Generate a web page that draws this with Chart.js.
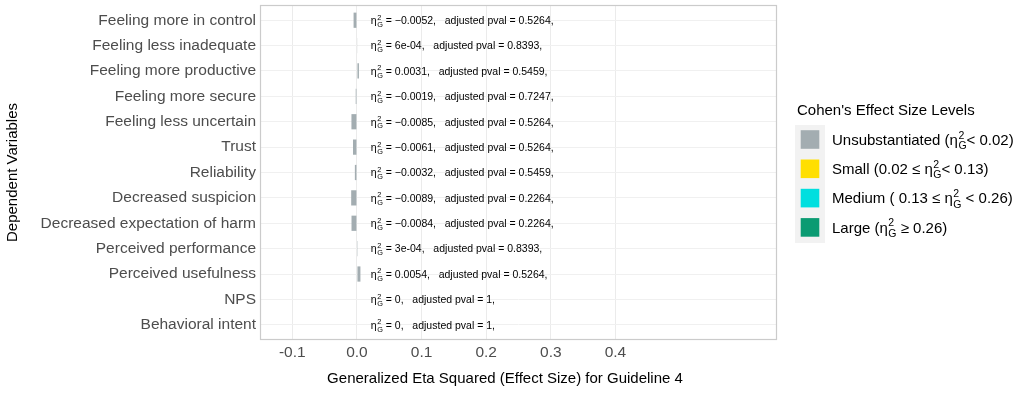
<!DOCTYPE html>
<html>
<head>
<meta charset="utf-8">
<script src="https://cdn.jsdelivr.net/npm/chart.js@4.4.1/dist/chart.umd.min.js"></script>
<style>
  html, body { margin: 0; padding: 0; background: #fff; }
  #wrap { width: 1032px; height: 395px; }
</style>
</head>
<body>
<div id="wrap"><canvas id="chart"></canvas></div>
<script>
const FONT = '"Liberation Sans", Arial, Helvetica, sans-serif';

// data
const categories = ['Feeling more in control', 'Feeling less inadequate', 'Feeling more productive',
  'Feeling more secure', 'Feeling less uncertain', 'Trust', 'Reliability', 'Decreased suspicion',
  'Decreased expectation of harm', 'Perceived performance', 'Perceived usefulness', 'NPS', 'Behavioral intent'];
const etaValues = [-0.0052, 0.0006, 0.0031, -0.0019, -0.0085, -0.0061, -0.0032, -0.0089, -0.0084, 0.0003, 0.0054, 0, 0];
const etaLabels = ['\u22120.0052', '6e-04', '0.0031', '\u22120.0019', '\u22120.0085', '\u22120.0061', '\u22120.0032',
  '\u22120.0089', '\u22120.0084', '3e-04', '0.0054', '0', '0'];
const pvalLabels = ['0.5264', '0.8393', '0.5459', '0.7247', '0.5264', '0.5264', '0.5459', '0.2264', '0.2264',
  '0.8393', '0.5264', '1', '1'];
const xTicks = [-0.1, 0, 0.1, 0.2, 0.3, 0.4];
const xTickLabels = ['-0.1', '0.0', '0.1', '0.2', '0.3', '0.4'];
const levelThresholds = [0.02, 0.13, 0.26];
const levelColors = ['#a3adb1', '#ffdf00', '#00dfdf', '#0b9b72'];
const levelLabels = [
  ['Unsubstantiated (', 'ETA', '< 0.02)'],
  ['Small (0.02 \u2264 ', 'ETA', '< 0.13)'],
  ['Medium ( 0.13 \u2264 ', 'ETA', ' < 0.26)'],
  ['Large (', 'ETA', ' \u2265 0.26)']
];

function levelOf(v) {
  let a = Math.abs(v), i = 0;
  while (i < levelThresholds.length && a >= levelThresholds[i]) i++;
  return i;
}

// draws text pieces, 'ETA' is eta with sup 2 and sub G
function drawRich(ctx, parts, x, base, size) {
  ctx.textBaseline = 'alphabetic';
  ctx.textAlign = 'left';
  parts.forEach(p => {
    if (p === 'ETA') {
      ctx.font = size + 'px ' + FONT;
      ctx.fillText('\u03b7', x, base);
      x += ctx.measureText('\u03b7').width + 0.5;
      let s = size * 0.7;
      ctx.font = s + 'px ' + FONT;
      ctx.fillText('2', x, base - size * 0.42);
      ctx.fillText('G', x, base + size * 0.28);
      x += Math.max(ctx.measureText('2').width, ctx.measureText('G').width);
    } else {
      ctx.font = size + 'px ' + FONT;
      ctx.fillText(p, x, base);
      x += ctx.measureText(p).width;
    }
  });
  return x;
}

const overlay = {
  id: 'overlay',
  afterDraw(chart) {
    const ctx = chart.ctx, a = chart.chartArea;
    const xs = chart.scales.x, ys = chart.scales.y;
    ctx.save();

    // panel border
    ctx.strokeStyle = '#cbcbcb';
    ctx.lineWidth = 1.2;
    ctx.strokeRect(a.left + 0.5, a.top + 0.5, a.right - a.left - 1, a.bottom - a.top - 1);

    // annotations
    ctx.fillStyle = '#000';
    const tx = xs.getPixelForValue(0.0215);
    categories.forEach((c, i) => {
      const cy = ys.getPixelForValue(i);
      drawRich(ctx, ['ETA', ' = ' + etaLabels[i] + ',   adjusted pval = ' + pvalLabels[i] + ','], tx, cy + 3.8, 10.5);
    });

    // axis titles
    ctx.fillStyle = '#000';
    ctx.font = '15px ' + FONT;
    ctx.textAlign = 'center';
    ctx.textBaseline = 'middle';
    ctx.fillText('Generalized Eta Squared (Effect Size) for Guideline 4', 505, 379);
    ctx.save();
    ctx.translate(13, (a.top + a.bottom) / 2);
    ctx.rotate(-Math.PI / 2);
    ctx.fillText('Dependent Variables', 0, 0);
    ctx.restore();

    // legend
    ctx.textAlign = 'left';
    ctx.fillText("Cohen's Effect Size Levels", 797, 111);
    ctx.fillStyle = '#f2f2f2';
    ctx.fillRect(795, 125, 30, 118);
    levelColors.forEach((col, i) => {
      const cy = 139.5 + i * 29.3;
      ctx.fillStyle = col;
      ctx.fillRect(800.7, cy - 9.3, 18.6, 18.6);
      ctx.fillStyle = '#000';
      drawRich(ctx, levelLabels[i], 832, cy + 5.3, 15);
    });
    ctx.restore();
  }
};

new Chart(document.getElementById('chart'), {
  type: 'bar',
  data: {
    datasets: [{
      data: etaValues.map((v, i) => ({ x: v, y: i })),
      backgroundColor: etaValues.map(v => levelColors[levelOf(v)]),
      barPercentage: 0.6,
      categoryPercentage: 1.0
    }]
  },
  options: {
    indexAxis: 'y',
    responsive: true,
    maintainAspectRatio: false,
    animation: false,
    layout: { padding: { left: 0, right: 255, top: 5, bottom: 0 } },
    plugins: { legend: { display: false }, tooltip: { enabled: false } },
    scales: {
      x: {
        type: 'linear',
        min: -0.15,
        max: 0.65,
        offset: false,
        afterBuildTicks: s => { s.ticks = xTicks.map(v => ({ value: v })); },
        afterFit: s => { s.height = 55; s.paddingLeft = 0; s.paddingRight = 0; },
        grid: { color: '#ebebeb', drawTicks: false, offset: false },
        border: { display: false },
        ticks: {
          padding: 3,
          color: '#4d4d4d',
          font: { family: FONT, size: 15.5 },
          callback: (v) => xTickLabels[xTicks.indexOf(v)]
        }
      },
      y: {
        type: 'linear',
        min: -0.6,
        max: 12.6,
        reverse: true,
        offset: false,
        afterBuildTicks: s => { s.ticks = categories.map((c, i) => ({ value: i })); },
        afterFit: s => { s.width = 260; s.paddingTop = 0; s.paddingBottom = 0; },
        grid: { color: '#f0f0f0', drawTicks: false, offset: false },
        border: { display: false },
        ticks: {
          padding: 4,
          color: '#4d4d4d',
          font: { family: FONT, size: 15.5 },
          callback: (v) => categories[v]
        }
      }
    }
  },
  plugins: [overlay]
});
</script>
</body>
</html>
